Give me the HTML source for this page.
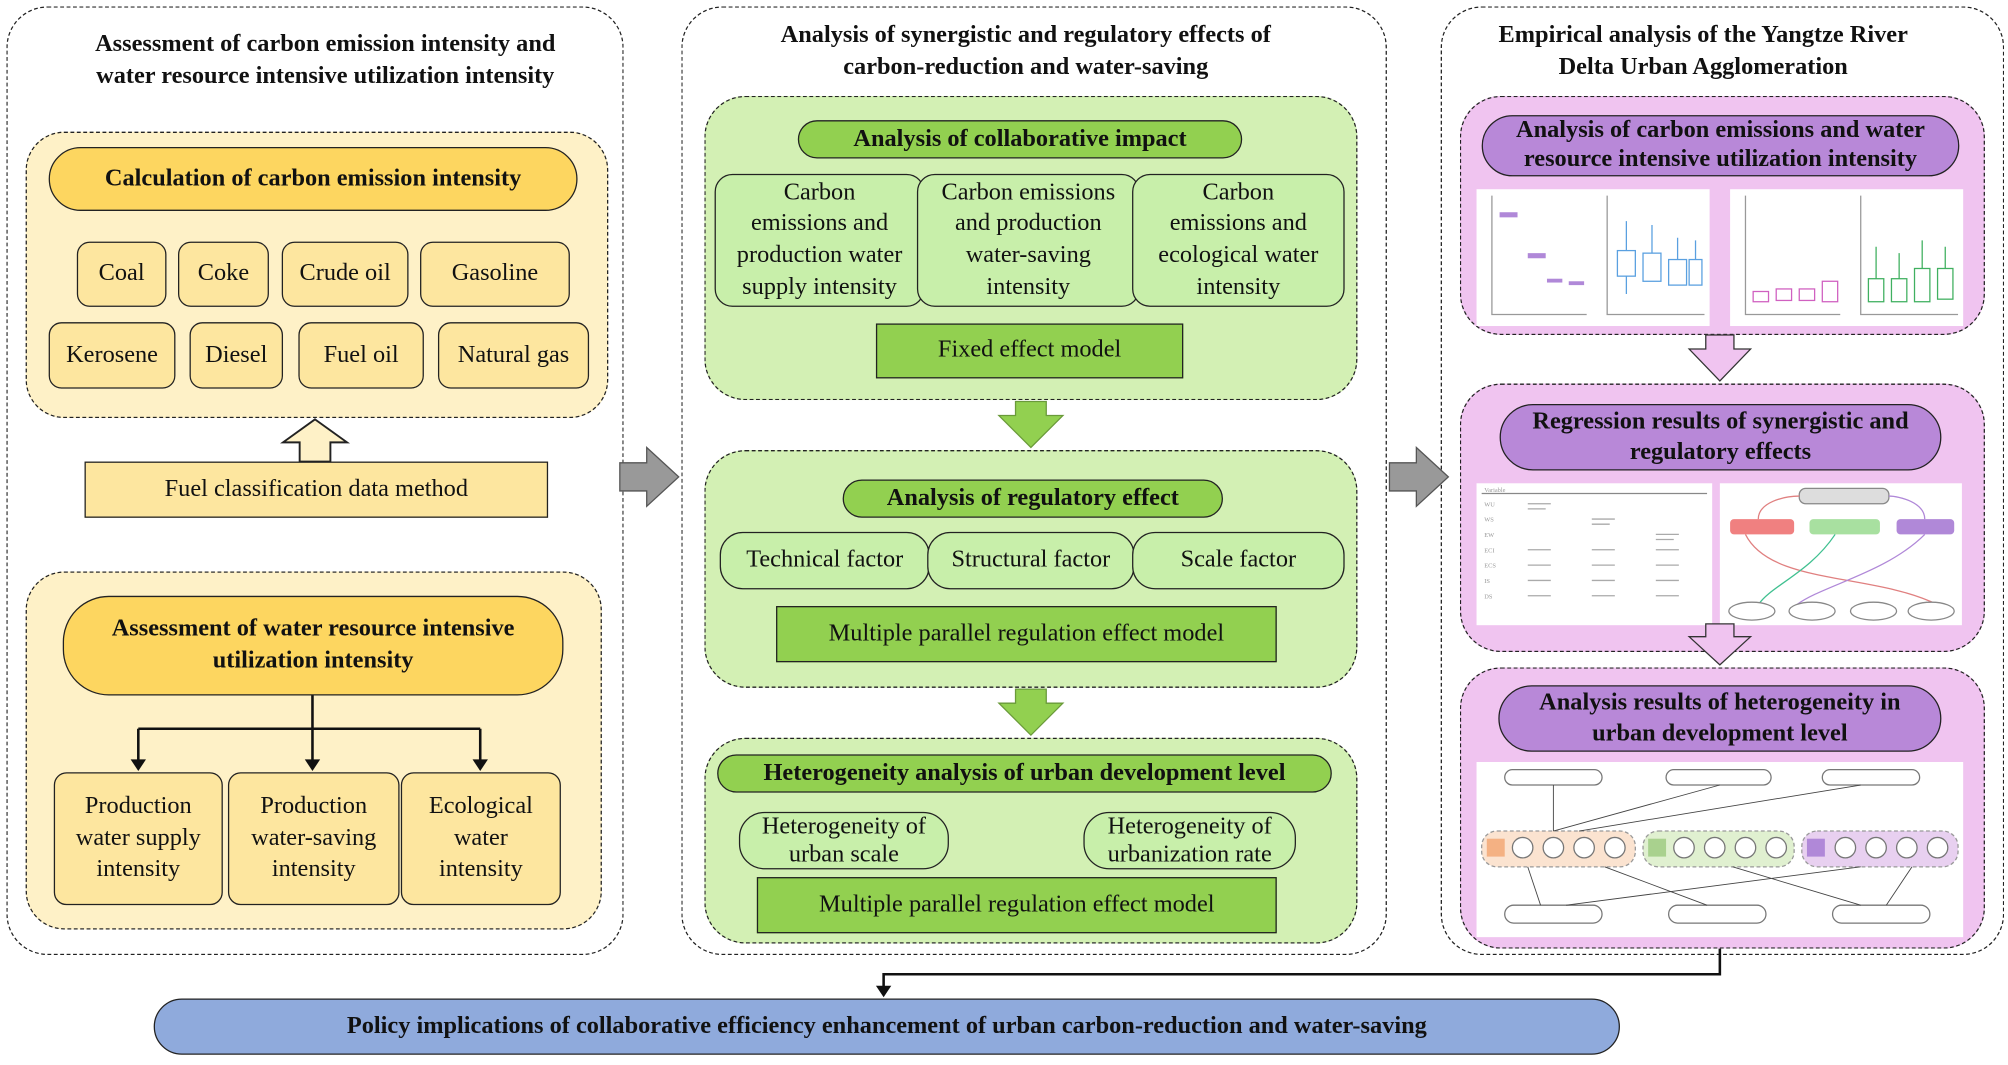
<!DOCTYPE html>
<html><head><meta charset="utf-8"><style>
body{margin:0;background:#fff;width:2008px;height:1065px;overflow:hidden}
#s{position:absolute;left:0;top:0;width:1568px;height:833px;transform:scale(1.28061,1.27851);transform-origin:0 0;font-family:"Liberation Serif",serif;color:#111}
.a{position:absolute;box-sizing:border-box;display:flex;align-items:center;justify-content:center;text-align:center;line-height:1.3}
.dash{border:1.5px dashed #222}
.t{font-weight:bold;font-size:19px}
.b{border:1.5px solid #222;font-size:19px}
.y1{background:#fef1c7}.yp{background:#fdd660;border-radius:30px}.yb{background:#fde69f;border-radius:10px}
.g1{background:#d3f0b4}.gp{background:#92d050;border-radius:16px}.gb{background:#c8efaa;border-radius:14px}.gm{background:#92d050}
.p1{background:#f0c4f0}.pp{background:#b888d8;border-radius:28px}
.img{background:#fff}
</style></head><body><div id="s">
<div class="a dash" style="left:5px;top:5px;width:482px;height:742px;border-radius:32px"></div>
<div class="a dash" style="left:532px;top:5px;width:551px;height:742px;border-radius:32px"></div>
<div class="a dash" style="left:1125px;top:5px;width:440px;height:742px;border-radius:32px"></div>
<div class="a t" style="left:10px;top:20px;width:488px;height:56px">Assessment of carbon emission intensity and<br>water resource intensive utilization intensity</div>
<div class="a t" style="left:540px;top:13px;width:522px;height:56px">Analysis of synergistic and regulatory effects of<br>carbon-reduction and water-saving</div>
<div class="a t" style="left:1130px;top:13px;width:400px;height:56px">Empirical analysis of the Yangtze River<br>Delta Urban Agglomeration</div>

<div class="a dash y1" style="left:20px;top:103px;width:455px;height:224px;border-radius:30px"></div>
<div class="a b yp t" style="left:38px;top:115px;width:413px;height:50px">Calculation of carbon emission intensity</div>
<div class="a b yb" style="left:60px;top:189px;width:70px;height:51px">Coal</div>
<div class="a b yb" style="left:139px;top:189px;width:71px;height:51px">Coke</div>
<div class="a b yb" style="left:220px;top:189px;width:99px;height:51px">Crude oil</div>
<div class="a b yb" style="left:328px;top:189px;width:117px;height:51px">Gasoline</div>
<div class="a b yb" style="left:38px;top:252px;width:99px;height:52px">Kerosene</div>
<div class="a b yb" style="left:148px;top:252px;width:73px;height:52px">Diesel</div>
<div class="a b yb" style="left:233px;top:252px;width:98px;height:52px">Fuel oil</div>
<div class="a b yb" style="left:342px;top:252px;width:118px;height:52px">Natural gas</div>
<div class="a b" style="left:66px;top:361px;width:362px;height:44px;background:#fde69f">Fuel classification data method</div>
<div class="a dash y1" style="left:20px;top:447px;width:450px;height:280px;border-radius:30px"></div>
<div class="a b yp t" style="left:49px;top:466px;width:391px;height:78px;border-radius:36px">Assessment of water resource intensive<br>utilization intensity</div>
<div class="a b yb" style="left:42px;top:604px;width:132px;height:104px">Production<br>water supply<br>intensity</div>
<div class="a b yb" style="left:178px;top:604px;width:134px;height:104px">Production<br>water-saving<br>intensity</div>
<div class="a b yb" style="left:313px;top:604px;width:125px;height:104px">Ecological<br>water<br>intensity</div>

<div class="a dash g1" style="left:550px;top:75px;width:510px;height:238px;border-radius:32px"></div>
<div class="a b gp t" style="left:623px;top:94px;width:347px;height:30px">Analysis of collaborative impact</div>
<div class="a b gb" style="left:558px;top:136px;width:164px;height:104px">Carbon<br>emissions and<br>production water<br>supply intensity</div>
<div class="a b gb" style="left:716px;top:136px;width:174px;height:104px">Carbon emissions<br>and production<br>water-saving<br>intensity</div>
<div class="a b gb" style="left:884px;top:136px;width:166px;height:104px">Carbon<br>emissions and<br>ecological water<br>intensity</div>
<div class="a b gm" style="left:684px;top:253px;width:240px;height:43px">Fixed effect model</div>
<div class="a dash g1" style="left:550px;top:352px;width:510px;height:186px;border-radius:32px"></div>
<div class="a b gp t" style="left:658px;top:375px;width:297px;height:30px">Analysis of regulatory effect</div>
<div class="a b gb" style="left:562px;top:416px;width:164px;height:45px;border-radius:18px">Technical factor</div>
<div class="a b gb" style="left:724px;top:416px;width:162px;height:45px;border-radius:18px">Structural factor</div>
<div class="a b gb" style="left:884px;top:416px;width:166px;height:45px;border-radius:18px">Scale factor</div>
<div class="a b gm" style="left:606px;top:474px;width:391px;height:44px">Multiple parallel regulation effect model</div>
<div class="a dash g1" style="left:550px;top:577px;width:510px;height:161px;border-radius:32px"></div>
<div class="a b gp t" style="left:560px;top:590px;width:480px;height:30px">Heterogeneity analysis of urban development level</div>
<div class="a b gb" style="left:577px;top:635px;width:164px;height:45px;border-radius:20px;line-height:1.15">Heterogeneity of<br>urban scale</div>
<div class="a b gb" style="left:846px;top:635px;width:166px;height:45px;border-radius:20px;line-height:1.15">Heterogeneity of<br>urbanization rate</div>
<div class="a b gm" style="left:591px;top:686px;width:406px;height:44px">Multiple parallel regulation effect model</div>

<div class="a dash p1" style="left:1140px;top:75px;width:410px;height:187px;border-radius:32px"></div>
<div class="a b pp t" style="left:1157px;top:90px;width:373px;height:48px;line-height:1.2">Analysis of carbon emissions and water<br>resource intensive utilization intensity</div>
<svg class="a img" style="left:1153px;top:148px" width="182" height="107"><g stroke="#999" fill="none"><path d="M12,5V98H86M102,5V98H178"/></g>
<g fill="#b088d8"><rect x="18" y="18" width="14" height="4"/><rect x="40" y="50" width="14" height="4"/><rect x="55" y="70" width="12" height="3"/><rect x="72" y="72" width="12" height="3"/></g>
<g stroke="#5aa0e0" fill="none"><rect x="110" y="48" width="14" height="20"/><rect x="130" y="50" width="14" height="22"/><rect x="150" y="55" width="14" height="20"/><rect x="166" y="55" width="10" height="20"/><path d="M117,25V48M117,68V82M137,28V50M157,38V55M171,40V55"/></g></svg>
<svg class="a img" style="left:1351px;top:148px" width="182" height="107"><g stroke="#999" fill="none"><path d="M12,5V98H86M102,5V98H178"/></g>
<g stroke="#d060c0" fill="none"><rect x="18" y="80" width="12" height="8"/><rect x="36" y="78" width="12" height="9"/><rect x="54" y="78" width="12" height="9"/><rect x="72" y="72" width="12" height="16"/></g>
<g stroke="#40b060" fill="none"><rect x="108" y="70" width="12" height="18"/><rect x="126" y="70" width="12" height="18"/><rect x="144" y="62" width="12" height="26"/><rect x="162" y="62" width="12" height="24"/><path d="M114,45V70M132,50V70M150,40V62M168,45V62"/></g></svg>
<div class="a dash p1" style="left:1140px;top:300px;width:410px;height:210px;border-radius:32px"></div>
<div class="a b pp t" style="left:1171px;top:316px;width:345px;height:52px;line-height:1.25">Regression results of synergistic and<br>regulatory effects</div>
<svg class="a img" style="left:1153px;top:378px" width="184" height="111"><path d="M4,8H180" stroke="#888"/><g fill="#999" font-size="5" font-family="Liberation Serif"><text x="6" y="7">Variable</text><text x="6" y="18">WU</text><text x="6" y="30">WS</text><text x="6" y="42">EW</text><text x="6" y="54">ECI</text><text x="6" y="66">ECS</text><text x="6" y="78">IS</text><text x="6" y="90">DS</text></g>
<g stroke="#aaa"><path d="M40,16h18M40,20h14M90,28h18M90,32h14M140,40h18M140,44h14M40,52h18M90,52h18M140,52h18M40,64h18M90,64h18M140,64h18M40,76h18M90,76h18M140,76h18M40,88h18M90,88h18M140,88h18"/></g></svg>
<svg class="a img" style="left:1343px;top:378px" width="189" height="111"><rect x="62" y="4" width="70" height="12" rx="5" fill="#ddd" stroke="#888"/><rect x="8" y="28" width="50" height="12" rx="3" fill="#f08080"/><rect x="70" y="28" width="55" height="12" rx="3" fill="#a8e0a0"/><rect x="138" y="28" width="45" height="12" rx="3" fill="#b088d8"/>
<g fill="none" stroke-width="1"><path d="M30,28C30,15 50,10 62,10" stroke="#e08080"/><path d="M160,28C160,15 140,10 132,10" stroke="#b088d8"/><path d="M20,40C40,80 120,70 170,95" stroke="#e08080"/><path d="M90,40C70,70 40,80 30,95" stroke="#40c090"/><path d="M160,40C130,70 80,80 60,95" stroke="#b088d8"/></g>
<g fill="#fff" stroke="#888"><ellipse cx="25" cy="100" rx="18" ry="7"/><ellipse cx="72" cy="100" rx="18" ry="7"/><ellipse cx="120" cy="100" rx="18" ry="7"/><ellipse cx="165" cy="100" rx="18" ry="7"/></g></svg>
<div class="a dash p1" style="left:1140px;top:522px;width:410px;height:220px;border-radius:32px"></div>
<div class="a b pp t" style="left:1170px;top:536px;width:346px;height:52px;line-height:1.25">Analysis results of heterogeneity in<br>urban development level</div>
<svg class="a img" style="left:1153px;top:596px" width="380" height="137"><g fill="#fff" stroke="#777"><rect x="22" y="6" width="76" height="12" rx="6"/><rect x="148" y="6" width="82" height="12" rx="6"/><rect x="270" y="6" width="76" height="12" rx="6"/><rect x="22" y="112" width="76" height="14" rx="7"/><rect x="150" y="112" width="76" height="14" rx="7"/><rect x="278" y="112" width="76" height="14" rx="7"/></g>
<g stroke-dasharray="3,2" stroke="#999"><rect x="4" y="54" width="120" height="28" rx="12" fill="#fbe3d0"/><rect x="130" y="54" width="118" height="28" rx="12" fill="#e0f0d0"/><rect x="254" y="54" width="122" height="28" rx="12" fill="#e8d0f0"/></g>
<rect x="8" y="60" width="14" height="14" fill="#f4b183"/><rect x="134" y="60" width="14" height="14" fill="#a9d18e"/><rect x="258" y="60" width="14" height="14" fill="#b088d8"/>
<g fill="#fff" stroke="#777"><circle cx="36" cy="67" r="8"/><circle cx="60" cy="67" r="8"/><circle cx="84" cy="67" r="8"/><circle cx="108" cy="67" r="8"/><circle cx="162" cy="67" r="8"/><circle cx="186" cy="67" r="8"/><circle cx="210" cy="67" r="8"/><circle cx="234" cy="67" r="8"/><circle cx="288" cy="67" r="8"/><circle cx="312" cy="67" r="8"/><circle cx="336" cy="67" r="8"/><circle cx="360" cy="67" r="8"/></g>
<g stroke="#444" fill="none" stroke-width=".7"><path d="M60,18V54M190,18L60,54M300,18L80,54M40,82L50,112M100,82L180,112M200,82L300,112M300,82L70,112M340,82L320,112"/></g></svg>

<div class="a b t" style="left:120px;top:781px;width:1145px;height:44px;background:#8faadc;border-radius:22px">Policy implications of collaborative efficiency enhancement of urban carbon-reduction and water-saving</div>

<svg style="position:absolute;left:0;top:0" width="1568" height="833">
<polygon points="246,328 271,346 258,346 258,361 234,361 234,346 221,346" fill="#fef1c7" stroke="#222" stroke-width="1.5"/>
<g stroke="#111" stroke-width="2" fill="none"><path d="M244,544V570M108,570H375M108,570V596M244,570V596M375,570V596"/></g>
<g fill="#111"><polygon points="102,594 114,594 108,603"/><polygon points="238,594 250,594 244,603"/><polygon points="369,594 381,594 375,603"/></g>
<polygon points="484,362 505,362 505,350 530,373 505,396 505,384 484,384" fill="#999" stroke="#555" stroke-width="1"/>
<polygon points="1085,362 1106,362 1106,350 1131,373 1106,396 1106,384 1085,384" fill="#999" stroke="#555" stroke-width="1"/>
<polygon points="793,314 817,314 817,325 830,325 805,350 780,325 793,325" fill="#92d050" stroke="#6a9a3a"/>
<polygon points="793,539 817,539 817,550 830,550 805,575 780,550 793,550" fill="#92d050" stroke="#6a9a3a"/>
<polygon points="1332,262 1354,262 1354,273 1367,273 1343,298 1319,273 1332,273" fill="#f0c4f0" stroke="#333"/>
<polygon points="1332,488 1354,488 1354,498 1367,498 1343,520 1319,498 1332,498" fill="#f0c4f0" stroke="#333"/>
<path d="M1343,742V762H690V772" stroke="#111" stroke-width="2" fill="none"/>
<polygon points="684,771 696,771 690,780" fill="#111"/>
</svg>
</div></body></html>
